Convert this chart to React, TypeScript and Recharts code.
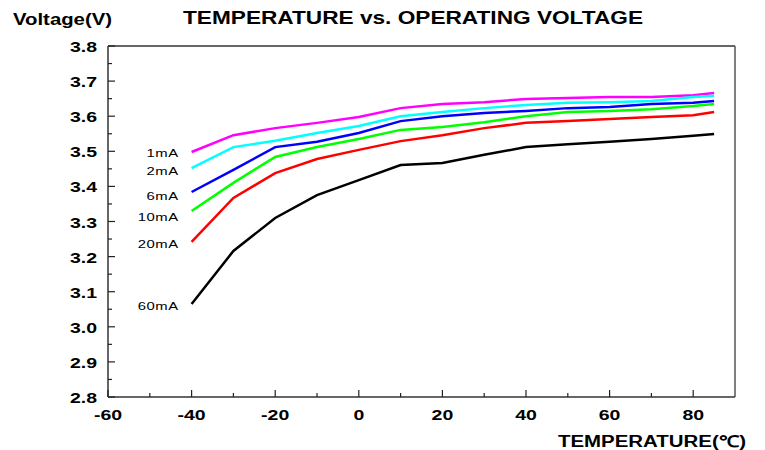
import { LineChart, Line, XAxis, YAxis, ReferenceLine } from 'recharts'

const temps = [-40, -30, -20, -10, 0, 10, 20, 30, 40, 50, 60, 70, 80, 85]
const v1mA = [3.498, 3.546, 3.566, 3.581, 3.598, 3.623, 3.635, 3.64, 3.649, 3.652, 3.655, 3.655, 3.66, 3.666]
const v2mA = [3.452, 3.512, 3.53, 3.552, 3.572, 3.6, 3.612, 3.623, 3.632, 3.638, 3.64, 3.643, 3.655, 3.658]
const v6mA = [3.384, 3.447, 3.512, 3.527, 3.552, 3.586, 3.6, 3.609, 3.615, 3.623, 3.626, 3.635, 3.638, 3.643]
const v10mA = [3.33, 3.41, 3.484, 3.512, 3.535, 3.561, 3.569, 3.583, 3.6, 3.612, 3.615, 3.62, 3.629, 3.635]
const v20mA = [3.242, 3.367, 3.438, 3.478, 3.504, 3.529, 3.546, 3.566, 3.581, 3.586, 3.592, 3.598, 3.603, 3.612]
const v60mA = [3.065, 3.216, 3.31, 3.375, 3.418, 3.461, 3.467, 3.49, 3.512, 3.52, 3.527, 3.535, 3.544, 3.549]

const currents = ['1mA', '2mA', '6mA', '10mA', '20mA', '60mA']
const xTicks = [-60, -50, -40, -30, -20, -10, 0, 10, 20, 30, 40, 50, 60, 70, 80]
const yTicks = [
  2.8, 2.85, 2.9, 2.95, 3.0, 3.05, 3.1, 3.15, 3.2, 3.25, 3.3,
  3.35, 3.4, 3.45, 3.5, 3.55, 3.6, 3.65, 3.7, 3.75, 3.8,
]

const series = [v1mA, v2mA, v6mA, v10mA, v20mA, v60mA]
const colors = ['#ff00ff', '#00ffff', '#0000ff', '#00ff00', '#ff0000', '#000000']
const labelDy = [5, 7, 8, 10, 6, 6]

const data = temps.map((t, i) => {
  const row: Record<string, number> = { t }
  currents.forEach((c, k) => (row[c] = series[k][i]))
  return row
})

const font = '"Liberation Sans", Arial, sans-serif'
const stretch = 1.3

function YTick(props: any) {
  const { x, y, payload } = props
  const v = payload.value as number
  const major = Math.round(v * 100) % 10 === 0
  return (
    <g>
      <line x1={x} y1={y} x2={x + (major ? 7 : 4)} y2={y} stroke="#222" strokeWidth={1.2} />
      {major && (
        <text
          transform={`translate(${x - 11},${y + 6}) scale(${stretch},1)`}
          textAnchor="end"
          fontFamily={font}
          fontWeight="bold"
          fontSize={15}
          fill="#000"
        >
          {v.toFixed(1)}
        </text>
      )}
    </g>
  )
}

function XTick(props: any) {
  const { x, y, payload } = props
  const v = payload.value as number
  const major = v % 20 === 0
  return (
    <g>
      <line x1={x} y1={y} x2={x} y2={y - (major ? 7 : 4)} stroke="#222" strokeWidth={1.2} />
      {major && (
        <text
          transform={`translate(${x},${y + 23}) scale(${stretch},1)`}
          textAnchor="middle"
          fontFamily={font}
          fontWeight="bold"
          fontSize={15}
          fill="#000"
        >
          {v}
        </text>
      )}
    </g>
  )
}

function seriesLabel(name: string, dy: number) {
  return (p: any) =>
    p.index === 0 ? (
      <text
        transform={`translate(${p.x - 13},${p.y + dy}) scale(1.35,1)`}
        textAnchor="end"
        fontFamily={font}
        fontSize={11}
        fill="#000"
        letterSpacing={0.4}
      >
        {name}
      </text>
    ) : null
}

export default function App() {
  return (
    <div style={{ position: 'absolute', left: 0, top: 0, width: 765, height: 450, background: '#fff' }}>
      <LineChart width={765} height={450} data={data} margin={{ top: 46, right: 30, left: 48, bottom: 23 }}>
        <XAxis
          dataKey="t"
          type="number"
          domain={[-60, 90]}
          ticks={xTicks}
          interval={0}
          height={30}
          tickSize={0}
          tickMargin={0}
          tick={<XTick />}
          axisLine={{ stroke: '#333', strokeWidth: 1.5 }}
          tickLine={false}
        />
        <YAxis
          type="number"
          domain={[2.8, 3.8]}
          ticks={yTicks}
          interval={0}
          width={60}
          tickSize={0}
          tickMargin={0}
          tick={<YTick />}
          axisLine={{ stroke: '#333', strokeWidth: 1.5 }}
          tickLine={false}
        />
        <ReferenceLine y={3.8} stroke="#333" strokeWidth={1.5} />
        <ReferenceLine x={90} stroke="#555" strokeWidth={1.5} />
        {currents.map((c, k) => (
          <Line
            key={c}
            dataKey={c}
            type="linear"
            stroke={colors[k]}
            strokeWidth={2.5}
            dot={false}
            isAnimationActive={false}
            label={seriesLabel(c, labelDy[k])}
          />
        ))}
      </LineChart>
      <svg width={765} height={450} style={{ position: 'absolute', left: 0, top: 0, pointerEvents: 'none' }}>
        <text x={13} y={25} fontFamily={font} fontWeight="bold" fontSize={16} textLength={99} lengthAdjust="spacingAndGlyphs">
          Voltage(V)
        </text>
        <text x={183} y={24} fontFamily={font} fontWeight="bold" fontSize={17.5} textLength={460} lengthAdjust="spacingAndGlyphs">
          TEMPERATURE vs. OPERATING VOLTAGE
        </text>
        <text x={558} y={447} fontFamily={font} fontWeight="bold" fontSize={16} textLength={188} lengthAdjust="spacingAndGlyphs">
          TEMPERATURE(℃)
        </text>
      </svg>
    </div>
  )
}
